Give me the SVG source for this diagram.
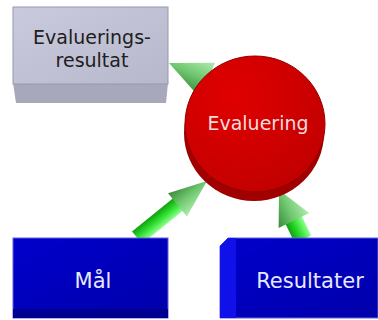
<svg xmlns="http://www.w3.org/2000/svg" width="378" height="320" viewBox="0 0 378 320">
<defs>
<style>
.t{font-family:"DejaVu Sans","Liberation Sans",sans-serif;font-size:19px;text-anchor:middle}
.b{font-size:21px}
</style>
<linearGradient id="grey" x1="0" y1="0" x2="1" y2="1"><stop offset="0" stop-color="#cacade"/><stop offset="1" stop-color="#b8b8cc"/></linearGradient>
<linearGradient id="blue" x1="0" y1="0" x2="1" y2="1"><stop offset="0" stop-color="#0000cc"/><stop offset="1" stop-color="#0000aa"/></linearGradient>
<radialGradient id="red" cx="0.35" cy="0.3" r="0.8"><stop offset="0" stop-color="#e00000"/><stop offset="1" stop-color="#c00000"/></radialGradient>
<linearGradient id="cone" x1="0" y1="0" x2="0" y2="1"><stop offset="0" stop-color="#b0ecb0"/><stop offset="0.5" stop-color="#70c870"/><stop offset="1" stop-color="#3a8a3a"/></linearGradient>
<linearGradient id="shaft" x1="0" y1="0" x2="0" y2="1"><stop offset="0" stop-color="#90ff90"/><stop offset="0.5" stop-color="#30e030"/><stop offset="1" stop-color="#10a010"/></linearGradient>
</defs>
<g id="connectors">
<g transform="translate(169,63) rotate(24)">
<polygon points="0,0 42,-19 42,19" fill="url(#cone)"/>
</g>
<g transform="translate(207,181) rotate(141)">
<rect x="30" y="-8" width="60" height="16" fill="url(#shaft)"/>
<polygon points="0,0 38,-15 38,15" fill="url(#cone)"/>
</g>
<g transform="translate(279,190) rotate(64)">
<rect x="25" y="-9" width="30" height="18" fill="url(#shaft)"/>
<polygon points="0,0 34,-17 34,17" fill="url(#cone)"/>
</g>
</g>
<g id="evalueringsresultat">
<polygon points="13,83 168,83 166,103 16,103" fill="#a8a8bc"/>
<rect x="13" y="7" width="155" height="77" fill="url(#grey)" stroke="#9898ac" stroke-width="1"/>
<text class="t" x="92" y="44" fill="#202020">Evaluerings-</text>
<text class="t" x="92" y="67" fill="#202020">resultat</text>
</g>
<g id="evaluering">
<ellipse cx="254" cy="133" rx="70" ry="68" fill="#a00000"/>
<ellipse cx="255" cy="124" rx="70" ry="68" fill="url(#red)" stroke="#900000" stroke-width="1"/>
<text class="t" x="258" y="130" fill="#f4dcdc">Evaluering</text>
</g>
<g id="maal">
<rect x="13" y="238" width="155" height="80" fill="url(#blue)" stroke="#6060e0" stroke-width="1"/>
<rect x="13" y="309" width="155" height="9" fill="#000090"/>
<text class="t b" x="93" y="288" fill="#e8e8ff">Mål</text>
</g>
<g id="resultater">
<polygon points="228,238 378,238 378,318 220,318 220,246" fill="url(#blue)" stroke="#6060e0" stroke-width="1"/>
<polygon points="220,246 228,238 236,238 236,318 220,318" fill="#1010e8"/>
<text class="t b" x="310" y="288" fill="#e8e8ff">Resultater</text>
</g>
</svg>
